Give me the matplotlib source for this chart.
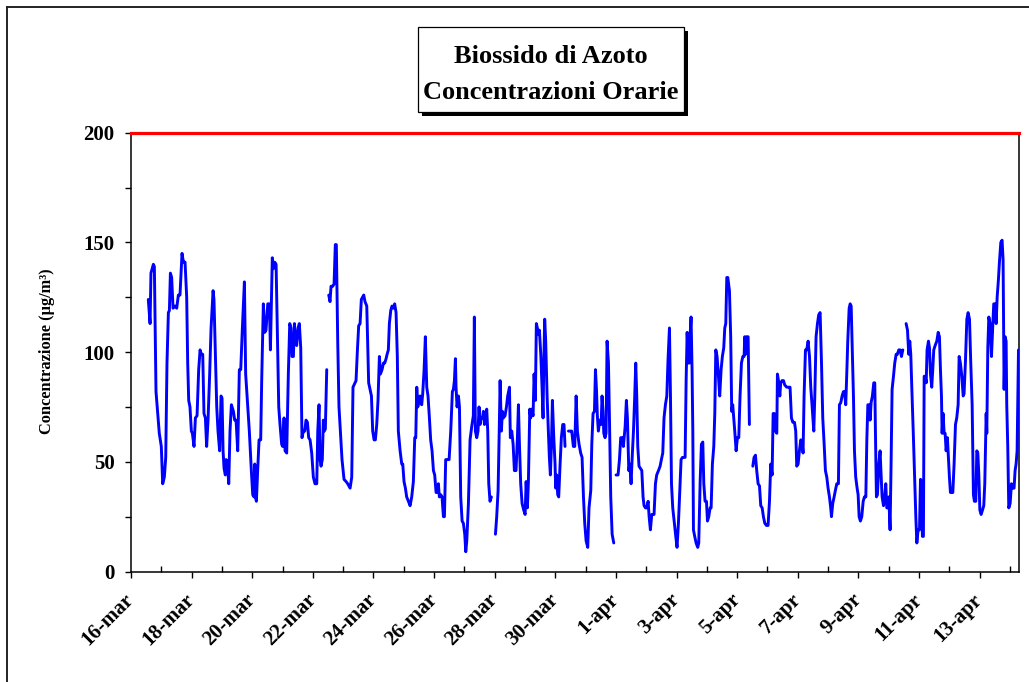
import matplotlib
matplotlib.use("Agg")
import matplotlib.pyplot as plt
from matplotlib.patches import Rectangle
from matplotlib.lines import Line2D

plt.rcParams['font.family'] = ['Liberation Serif', 'DejaVu Serif']
plt.rcParams['font.weight'] = 'bold'

# ---------------- data (hours since 16-mar 00:00, NO2 in ug/m3) ----------------
title_lines = ["Biossido di Azoto", "Concentrazioni Orarie"]
y_label = "Concentrazione (µg/m³)"
limit_value = 200
date_labels = ["16-mar", "18-mar", "20-mar", "22-mar", "24-mar", "26-mar", "28-mar",
               "30-mar", "1-apr", "3-apr", "5-apr", "7-apr", "9-apr", "11-apr", "13-apr"]
n_days_shown = 29.3

seg1 = [(13.7,124),(15.1,113),(15.8,136),(17.7,140),(18.5,139),(19.8,82),(22.4,63),(24.0,57),(25.1,40),(26.4,43),
        (27.5,52),(28.5,95),(29.6,118),(30.4,119),(31.2,136),(32.2,134),(33.3,120),(34.9,121),(36.2,120),(37.5,126),
        (38.8,126),(40.4,145),(41.5,141),(42.8,141),(44.1,125),(44.9,95),(45.7,78),(46.7,75),(47.8,64),(48.6,63),
        (49.9,57),(51.0,70),(52.3,71),(53.6,92),(54.7,101),(55.7,99),(56.8,99),(57.8,72),(58.9,70),(59.9,57),
        (61.0,69),(62.3,90),(63.4,111),(65.0,128),(65.7,124),(67.1,93),(67.9,75),(68.9,64),(70.2,55),(71.3,80),
        (72.1,79),(72.9,55),(73.7,47),(74.7,44),(75.3,51),(76.3,50),(77.4,40),(78.4,64),(79.5,76),(81.1,73),
        (82.1,69),(83.2,69),(84.5,55),(85.8,92),(86.9,92),(88.2,111),(89.8,132),(90.8,90),(92.4,76),(93.7,64),
        (95.3,46),(96.4,35),(97.4,34),(98.0,49),(98.5,34),(99.3,32),(100.3,46),(101.4,60),(102.7,60),(103.5,87),
        (104.8,122),(105.9,109),(106.9,110),(108.3,122),(109.6,122),(110.4,101),(111.2,124),(111.9,143),(112.7,138),
        (113.8,141),(114.9,140),(115.9,110),(117.0,75),
        (118.0,67),(119.3,58),(120.1,57),(121.2,70),(122.0,55),(123.3,54),(124.6,90),(125.7,113),(126.7,111),
        (127.5,98),(128.6,98),(129.4,113),(130.4,105),(131.2,103),(132.3,111),(133.3,113),(134.4,102),(135.4,61),
        (136.5,64),(137.6,64),(138.6,69),(139.7,68),(140.7,61),(141.8,60),(143.1,54),(144.4,43),(145.7,40),
        (147.1,40),(147.9,64),(148.9,76),(149.7,51),(150.5,48),(151.5,51),(152.3,69),(153.1,64),(153.9,65),(155.0,92)]

seg2 = [(156.6,126),(157.6,123),(158.4,130),(159.7,130),(160.8,131),(161.8,149),(162.6,149),(163.7,105),(164.7,75),
        (166.1,61),(167.1,51),(168.7,42),(170.3,41),(171.6,40),(173.5,38),(174.8,43),(175.8,84),(177.4,86),(178.2,87),
        (179.3,101),(180.3,112),(181.4,113),(182.4,124),(184.3,126),(185.3,123),(186.7,121),(188.2,86),(189.3,83),
        (190.4,80),(191.4,64),(192.5,60),(193.5,60),(194.6,67),(195.6,78),(196.7,98),(197.5,90),(198.8,92),(199.9,95),
        (200.9,95),(202.0,97),(202.8,99),(203.8,101),(204.6,113),(205.7,119),(206.7,121),(207.8,120),(208.8,122),
        (209.9,118),(210.9,98),(211.7,64),(213.1,55),(214.4,49),(215.2,49),(216.2,41),(217.3,38),(218.3,34),(219.7,32),
        (221.0,30),(222.3,34),(223.6,41),(224.7,61),(225.5,61),(226.3,84),(227.1,75),
        (228.9,80),(230.2,76),(231.0,81),(232.1,92),(233.1,107),(234.2,84),(235.2,80),(236.3,70),(237.3,60),(238.4,55),
        (239.5,46),(240.5,44),(241.6,36),(242.6,36),(243.4,40),(244.2,34),(245.3,35),(246.3,34),(247.4,25),(248.2,25),
        (249.2,51),(250.5,51),(251.9,51),(253.2,64),(254.5,82),(255.3,83),(256.1,87),(256.9,97),(257.4,84),(258.2,75),
        (259.3,80),(260.1,75),(261.1,34),(262.2,23),(263.2,22),(264.3,17),(265.1,9),(265.9,14),(267.2,31),(268.5,60),
        (269.8,66),(271.1,71),(271.9,116),(272.7,64),(273.8,61),(274.8,64),(275.6,75),(276.4,67),(277.2,70),(278.3,70),
        (279.1,73),(279.9,67),(280.9,70),(281.7,74),(282.5,64),(283.3,40),(284.3,32),(285.4,34)]

seg3 = [(288.6,17),(289.6,25),(290.7,37),(291.5,61),(292.3,87),(293.3,64),(294.1,73),(294.9,70),(296.2,71),(297.3,75),
        (298.3,80),(299.7,84),(300.4,61),(301.5,64),(302.6,58),(303.6,46),(304.9,46),(306.0,61),(306.8,76),(307.6,58),
        (308.6,40),(309.7,31),(311.0,28),(312.1,26),(312.9,41),(313.9,29),(314.7,41),(315.8,74),(316.5,70),(317.3,74),
        (318.4,71),(319.2,90),(320.2,78),(321.0,113),(321.8,111),(322.6,108),(323.4,110),(324.5,99),(325.5,84),
        (326.3,70),(326.8,92),(327.6,115),(328.4,105),(329.5,80),(330.5,64),(331.3,52),(332.1,44),(332.9,57),(333.7,78),
        (334.8,61),(335.8,49),(336.3,38),(337.1,44),(337.9,35),(338.7,34),(339.8,49),(340.8,61),(341.9,67),(342.9,67),
        (343.7,57)]

seg4 = [(346.4,64),(347.7,64),(349.0,64),(350.3,57),(351.4,57),(352.5,80),(353.5,64),(354.8,58),(356.1,54),(357.2,52),
        (358.3,34),(359.3,22),(360.4,14),(361.7,11),(362.7,29),(364.1,37),(364.9,58),(365.9,72),(367.0,73),(367.8,92),
        (368.6,83),(369.3,71),(370.1,64),(371.2,69),(372.3,67),(373.0,80),(373.8,73),(374.4,63),(375.4,61),(376.2,63),
        (377.0,105),(378.1,95),(378.9,69),(379.9,34),(381.0,17),(382.3,13)]

seg5 = [(384.1,44),(385.7,44),(386.8,51),(387.8,61),(389.4,61),(389.9,57),(391.3,66),(392.3,78),(393.1,70),(394.2,46),
        (395.0,49),(396.0,40),(396.8,51),(397.9,64),(398.9,80),(399.7,95),(400.5,80),(401.3,57),(402.3,48),(403.4,47),
        (404.5,46),(405.5,34),(406.3,30),(407.4,29),(408.4,29),(409.5,32),(410.3,25),(411.3,19),(412.4,26),(413.2,26),
        (414.2,26),(415.3,40),(416.3,44),(417.7,46),(419.0,48),(420.0,51),(421.1,54),(422.1,70),(423.2,76),(424.3,80),
        (425.3,97),(426.4,111),(427.2,80),(428.0,40),(429.0,29),(430.3,22),(431.4,16),(432.4,11),(433.5,22),(434.6,37),
        (435.6,51),(436.7,52),(437.7,52),(438.8,52),(439.6,87),(440.4,109),(441.4,95),(442.2,95),(442.7,107),(443.5,116),
        (444.3,92),(444.9,64),(445.4,19),(446.4,16),(447.5,13),(448.8,11),(449.6,13),(450.7,41),(451.7,58),(452.8,59),
        (453.6,40),(454.6,32),(455.7,32),(456.5,23),(457.5,25),(458.6,29),(459.4,29),(460.4,49),(461.5,57),(462.3,72),
        (463.1,101),(464.1,98),(465.2,89),(466.2,80),(467.3,92),(468.3,98),(469.4,102),(470.2,111),(471.0,113),
        (471.8,134),(472.6,134),(473.9,128),(474.9,107),(475.7,73),(476.5,76),(477.3,70),(478.1,64),(479.2,55),
        (480.2,61),(481.3,61),(482.3,80),(483.4,95),(484.5,98),(485.5,98),(486.0,107),(486.6,99),(487.4,107),
        (488.7,107),(489.7,67)]

seg6 = [(492.4,48),(493.4,52),(494.5,53),(495.5,46),(496.6,40),(497.7,39),(498.7,30),(499.8,29),(500.8,25),(501.9,22),
        (503.2,21),(504.5,21),(505.6,32),(506.6,49),(507.7,44),(508.5,72),(509.5,72),(510.3,64),(511.4,63),(511.9,90),
        (513.0,86),(513.8,80),(514.5,86),(515.6,87),(516.7,87),(517.7,85),(519.3,84),(520.9,84),(521.9,84),(523.0,70),
        (524.1,68),(525.4,68),(526.4,64),(527.2,48),(528.3,49),(529.3,55),(530.4,60),(531.4,59),(532.2,54),(533.0,80),
        (534.1,101),(535.1,101),(536.2,105),(537.3,98),(538.3,84),(539.4,75),(540.7,64),(541.5,80),(542.5,107),
        (543.6,113),(544.6,117),(545.7,118),(546.8,95),(547.8,70),(548.9,58),(549.9,46),(551.0,43),(552.0,38),
        (553.1,34),(554.1,29),(554.7,25),(555.7,31),(556.8,34),(557.8,37),(558.9,40),(560.2,40),(561.0,76),(562.1,77),
        (563.1,80),(564.2,82),(565.0,82),(566.0,76),(566.8,90),(567.6,105),(568.7,120),(569.5,122),(570.3,121),
        (571.0,105),(572.1,80),(572.9,55),(573.9,43),(575.0,38),(575.8,35),(576.6,25),(577.6,23),(578.7,25),(579.8,32),
        (580.8,34),(581.9,34),(582.7,60),(583.5,76),(584.5,76),(585.3,69),(586.1,77),(587.1,80),(588.2,86),(589.0,86),
        (589.5,64),(590.3,34),(591.1,35),(592.2,49),(593.2,55),(594.0,44),(594.8,34),(595.9,30),(596.9,34),(597.7,40),
        (598.5,29),(599.3,29),(600.1,34),(601.1,19),(601.9,49),(602.7,83),(603.8,89),(604.8,95),(605.9,99),(606.9,99),
        (608.0,101),(609.1,101),(610.1,98),(611.2,101)]

seg7 = [(613.8,113),(614.9,110),(615.9,99),(616.7,105),(617.5,99),(618.3,84),(619.6,61),(620.7,40),(621.5,25),
        (622.3,13),(623.3,19),(624.4,19),(625.2,42),(626.0,41),(626.7,16),(627.5,16),(628.1,89),(628.9,89),(629.7,86),
        (630.4,101),(631.5,105),(632.3,102),(633.1,90),(634.1,84),(634.9,92),(635.7,101),(636.8,103),(638.1,105),
        (639.2,109),(640.2,107),(641.0,92),(641.8,80),(642.3,63),(643.1,72),(643.9,63),(644.7,63),(645.5,55),(646.5,61),
        (647.3,52),(648.1,43),(648.9,36),(650.8,36),(651.8,49),(652.9,67),(653.9,70),(655.0,76),(655.8,98),(656.8,95),
        (657.9,89),(659.0,80),(659.7,81),(660.8,96),(661.9,115),(662.9,118),(664.0,115),(665.0,95),(666.1,76),
        (667.1,35),(667.9,32),(669.0,32),(669.8,55),(670.6,54),(671.4,44),(672.2,28),(673.2,26),(674.3,28),(675.3,30),
        (676.1,40),(677.2,72),(677.7,63),(678.5,102),(679.3,116),(680.3,113),(681.4,98),(682.5,113),(683.2,122),
        (684.3,122),(685.1,113),(685.9,125),(686.9,133),(687.7,141),(688.8,150),(689.8,151),(690.6,142),(691.4,83),
        (692.2,107),(693.0,105),(693.5,76),(694.3,57),(695.1,29),(696.2,31),(697.2,40),(698.3,38),(699.3,38),
        (700.1,46),(700.9,49),(701.7,55),(702.8,101)]

segments = [seg1, seg2, seg3, seg4, seg5, seg6, seg7]

# ---------------- figure ----------------
W, H = 1029, 682
fig = plt.figure(figsize=(W / 100, H / 100), dpi=100)


def fx(px):
    return px / W


def fy(py):
    return 1 - py / H


ax = fig.add_axes([fx(131), fy(571.5), fx(1019) - fx(131), fy(132.7) - fy(571.5)])

for seg in segments:
    hrs = [p[0] for p in seg]
    val = [p[1] for p in seg]
    ax.plot(hrs, val, color='#0000FF', lw=2.1, solid_joinstyle='round', solid_capstyle='round', zorder=3)

ax.axhline(limit_value, color='#FF0000', lw=2.3, clip_on=False, zorder=5)

ax.set_xlim(0, n_days_shown * 24)
ax.set_ylim(0, 200)
ax.spines['top'].set_visible(False)
for s in ['left', 'bottom', 'right']:
    ax.spines[s].set_linewidth(1.1)
    ax.spines[s].set_color('black')

ax.set_yticks([0, 50, 100, 150, 200])
ax.set_yticks([25, 75, 125, 175], minor=True)
ax.tick_params(axis='y', which='both', direction='out', length=4.6, width=1.0, pad=7.2, labelsize=15)

ax.set_xticks([48 * i for i in range(len(date_labels))])
ax.set_xticklabels(date_labels, rotation=45, ha='right', va='center', rotation_mode='anchor')
ax.set_xticks([24 * i for i in range(30)], minor=True)
ax.tick_params(axis='x', which='major', direction='out', length=4.2, width=1.0, pad=14, labelsize=15)
ax.tick_params(axis='x', which='minor', direction='in', length=4.2, width=1.0)

# y label
fig.text(fx(47), fy(351), y_label, rotation=90, ha='center', va='center', fontsize=11.8, fontweight='bold')

# title box with shadow
bx0, by0, bx1, by1 = 418, 27, 684, 112
fig.patches.append(Rectangle((fx(bx0 + 4), fy(by1 + 4)), (bx1 - bx0) / W, (by1 - by0) / H,
                             transform=fig.transFigure, facecolor='black', edgecolor='none', zorder=1))
fig.patches.append(Rectangle((fx(bx0), fy(by1)), (bx1 - bx0) / W, (by1 - by0) / H,
                             transform=fig.transFigure, facecolor='white', edgecolor='black', lw=0.9, zorder=2))
fig.text(fx((bx0 + bx1) / 2), fy(56.5), title_lines[0], ha='center', va='center', fontsize=19, fontweight='bold', zorder=3)
fig.text(fx((bx0 + bx1) / 2), fy(92.5), title_lines[1], ha='center', va='center', fontsize=19, fontweight='bold', zorder=3)

# outer chart border
fig.add_artist(Line2D([fx(6.5), fx(6.5)], [fy(6.5), 0], transform=fig.transFigure, color='#222222', lw=1.4))
fig.add_artist(Line2D([fx(6.5), 1], [fy(6.5), fy(6.5)], transform=fig.transFigure, color='#222222', lw=1.4))

fig.savefig('out.png', dpi=100)
